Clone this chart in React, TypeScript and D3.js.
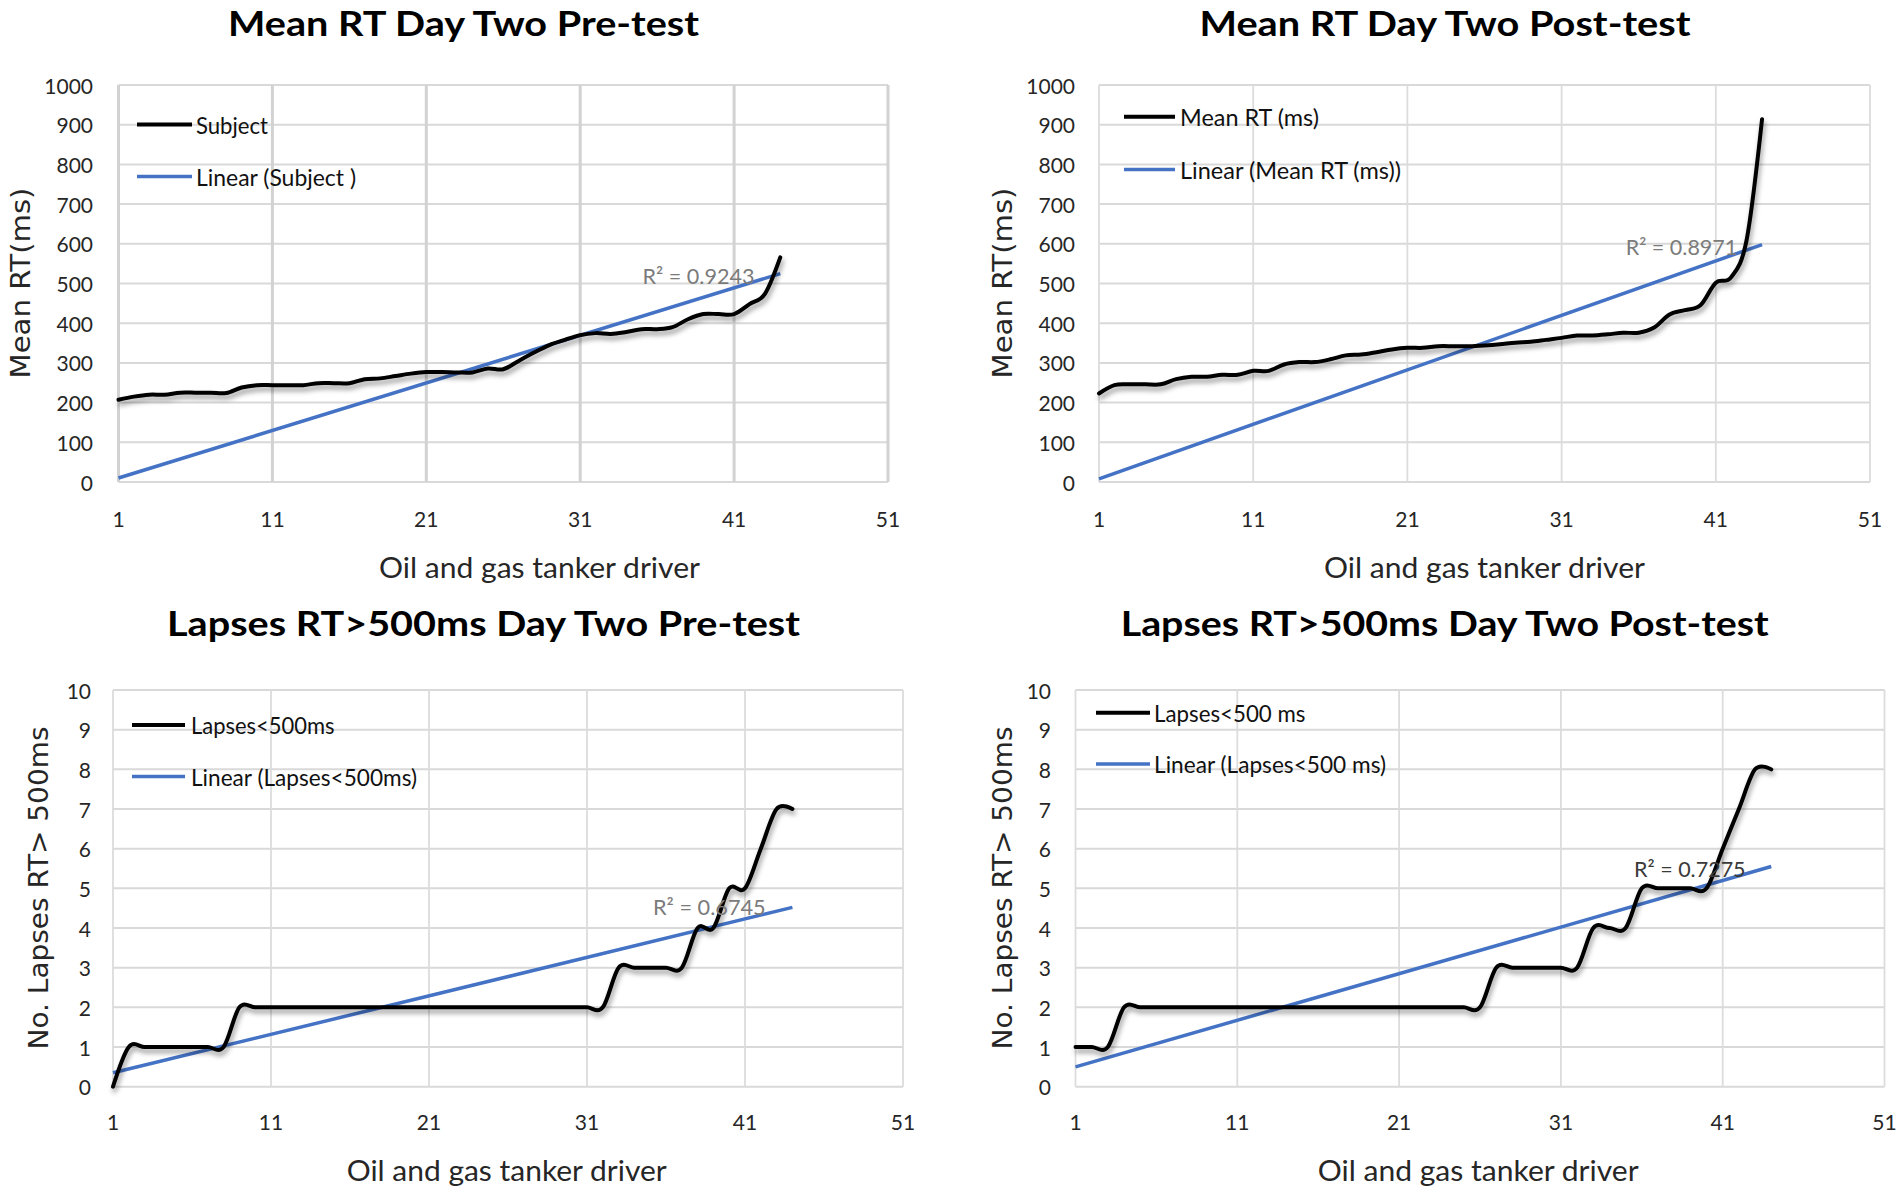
import React from 'react';
import * as d3 from 'd3';

// ---------- data ----------
const xTicks = [1, 11, 21, 31, 41, 51];
const meanTicks = [0, 100, 200, 300, 400, 500, 600, 700, 800, 900, 1000];
const lapseTicks = [0, 1, 2, 3, 4, 5, 6, 7, 8, 9, 10];

const meanRtPre = [
  207, 215, 220, 220, 225, 225, 225, 224, 238, 244,
  244, 244, 244, 249, 249, 249, 259, 261, 267, 273,
  277, 277, 276, 276, 286, 284, 305, 326, 345, 358,
  370, 375, 373, 378, 385, 385, 390, 410, 423, 423,
  423, 448, 474, 566,
];
const meanRtPost = [
  223, 244, 246, 246, 246, 259, 265, 265, 270, 270,
  280, 280, 296, 302, 302, 309, 319, 321, 327, 334,
  338, 338, 342, 342, 342, 344, 347, 351, 353, 358,
  363, 369, 369, 372, 376, 376, 389, 422, 433, 445,
  502, 516, 610, 914,
];
const lapsesPre = [
  0, 1, 1, 1, 1, 1, 1, 1, 2, 2,
  2, 2, 2, 2, 2, 2, 2, 2, 2, 2,
  2, 2, 2, 2, 2, 2, 2, 2, 2, 2,
  2, 2, 3, 3, 3, 3, 3, 4, 4, 5,
  5, 6, 7, 7,
];
const lapsesPost = [
  1, 1, 1, 2, 2, 2, 2, 2, 2, 2,
  2, 2, 2, 2, 2, 2, 2, 2, 2, 2,
  2, 2, 2, 2, 2, 2, 3, 3, 3, 3,
  3, 3, 4, 4, 4, 5, 5, 5, 5, 5,
  6, 7, 8, 8,
];

// trend line end points (x = first and last driver)
const trendX = [1, 44];
const trendMeanPre = [10, 525];
const trendMeanPost = [8, 598];
const trendLapsesPre = [0.35, 4.52];
const trendLapsesPost = [0.5, 5.55];

const titles = [
  'Mean RT Day Two Pre-test',
  'Mean RT Day Two Post-test',
  'Lapses RT>500ms Day Two Pre-test',
  'Lapses RT>500ms Day Two Post-test',
];
const seriesNames = ['Subject', 'Mean RT (ms)', 'Lapses<500ms', 'Lapses<500 ms'];
const trendNames = ['Linear (Subject )', 'Linear (Mean RT (ms))', 'Linear (Lapses<500ms)', 'Linear (Lapses<500 ms)'];
const r2Labels = ['R² = 0.9243', 'R² = 0.8971', 'R² = 0.6745', 'R² = 0.7275'];
const yTitles = ['Mean RT(ms)', 'Mean RT(ms)', 'No. Lapses RT> 500ms', 'No. Lapses RT> 500ms'];
const xTitle = 'Oil and gas tanker driver';

// ---------- layout ----------
type Layout = {
  left: number; right: number; top: number; bottom: number;
  tickRight: number; xTickY: number;
  titleX: number; titleW: number; titleY: number; titleSize: number;
  yTitleX: number; yTitleY: number; yTitleLen: number;
  xTitleX: number; xTitleY: number; xTitleW: number;
  legX1: number; legX2: number; legTx: number; legY1: number; legY2: number; legW1: number; legW2: number;
  r2X: number; r2W: number; r2Y: number; r2Color: string;
  vGridColor: string; vGridW: number;
};

const layouts: Layout[] = [
  {
    left: 118.5, right: 888, top: 85, bottom: 482, tickRight: 93, xTickY: 518.5,
    titleX: 228, titleW: 471, titleY: 36, titleSize: 35,
    yTitleX: 21, yTitleY: 283, yTitleLen: 191,
    xTitleX: 379, xTitleY: 566, xTitleW: 321,
    legX1: 137, legX2: 192, legTx: 196, legY1: 124.5, legY2: 176.5, legW1: 72, legW2: 160,
    r2X: 642.5, r2W: 112, r2Y: 275, r2Color: '#7b7b7b',
    vGridColor: '#d2d2d2', vGridW: 3,
  },
  {
    left: 1099, right: 1870, top: 85, bottom: 482, tickRight: 1075, xTickY: 518.5,
    titleX: 1199.5, titleW: 491, titleY: 36, titleSize: 35,
    yTitleX: 1002.5, yTitleY: 283, yTitleLen: 191,
    xTitleX: 1324, xTitleY: 566, xTitleW: 321,
    legX1: 1124, legX2: 1175, legTx: 1180, legY1: 116.7, legY2: 169.5, legW1: 139, legW2: 221,
    r2X: 1625.7, r2W: 111.6, r2Y: 246.7, r2Color: '#7b7b7b',
    vGridColor: '#dcdcdc', vGridW: 1.8,
  },
  {
    left: 113, right: 903, top: 690, bottom: 1086.7, tickRight: 91, xTickY: 1121.8,
    titleX: 167, titleW: 633, titleY: 636, titleSize: 35,
    yTitleX: 39.4, yTitleY: 888, yTitleLen: 323,
    xTitleX: 346.7, xTitleY: 1169, xTitleW: 320,
    legX1: 132, legX2: 185, legTx: 191, legY1: 725, legY2: 776.5, legW1: 143.5, legW2: 226,
    r2X: 653, r2W: 112.7, r2Y: 906.7, r2Color: '#7b7b7b',
    vGridColor: '#dcdcdc', vGridW: 1.8,
  },
  {
    left: 1075.5, right: 1884.5, top: 690, bottom: 1086.7, tickRight: 1051, xTickY: 1121.8,
    titleX: 1120.7, titleW: 648, titleY: 636, titleSize: 35,
    yTitleX: 1002.5, yTitleY: 888, yTitleLen: 323,
    xTitleX: 1317.7, xTitleY: 1169, xTitleW: 321,
    legX1: 1096, legX2: 1150, legTx: 1154, legY1: 712.7, legY2: 764, legW1: 151.5, legW2: 232,
    r2X: 1634, r2W: 111.6, r2Y: 868, r2Color: '#3a3a3a',
    vGridColor: '#dcdcdc', vGridW: 1.8,
  },
];

const BLUE = '#4472C4';
const SANS = 'Lato, "Open Sans", sans-serif';
const YFONT = '"DejaVu Sans", Verdana, sans-serif';

type PanelProps = {
  idx: number;
  values: number[];
  trend: number[];
  yTicks: number[];
  yMax: number;
  L: Layout;
};

function Panel({ idx, values, trend, yTicks, yMax, L }: PanelProps) {
  const x = d3.scaleLinear().domain([1, 51]).range([L.left, L.right]);
  const y = d3.scaleLinear().domain([0, yMax]).range([L.bottom, L.top]);
  const pts: [number, number][] = values.map((v, i) => [i + 1, v]);
  const line = d3
    .line<[number, number]>()
    .x((d) => x(d[0]))
    .y((d) => y(d[1]))
    .curve(d3.curveCardinal.tension(0));
  const trendPts: [number, number][] = trendX.map((xv, i) => [xv, trend[i]]);
  const straight = d3
    .line<[number, number]>()
    .x((d) => x(d[0]))
    .y((d) => y(d[1]));

  return (
    <g>
      {/* gridlines */}
      {yTicks.map((t) => (
        <line key={'h' + t} x1={L.left} x2={L.right} y1={y(t)} y2={y(t)} stroke="#d9d9d9" strokeWidth={2} />
      ))}
      {xTicks.map((t) => (
        <line key={'v' + t} x1={x(t)} x2={x(t)} y1={L.top} y2={L.bottom} stroke={L.vGridColor} strokeWidth={L.vGridW} />
      ))}

      {/* tick labels */}
      {yTicks.map((t) => (
        <text key={'yl' + t} x={L.tickRight} y={y(t)} textAnchor="end" dominantBaseline="central"
          fontFamily={SANS} fontSize={21} fill="#262626">{t}</text>
      ))}
      {xTicks.map((t) => (
        <text key={'xl' + t} x={x(t)} y={L.xTickY} textAnchor="middle" dominantBaseline="central"
          fontFamily={SANS} fontSize={21} fill="#262626">{t}</text>
      ))}

      {/* series */}
      <path d={straight(trendPts) || ''} fill="none" stroke={BLUE} strokeWidth={3.5} />
      <path d={line(pts) || ''} fill="none" stroke="#000" strokeWidth={4} strokeLinejoin="round"
        strokeLinecap="round" filter="url(#shadow)" />

      {/* R² */}
      <text x={L.r2X} y={L.r2Y} dominantBaseline="central" fontFamily={SANS} fontSize={22}
        fill={L.r2Color} textLength={L.r2W} lengthAdjust="spacingAndGlyphs">{r2Labels[idx]}</text>

      {/* legend */}
      <line x1={L.legX1} x2={L.legX2} y1={L.legY1} y2={L.legY1} stroke="#000" strokeWidth={4} />
      <text x={L.legTx} y={L.legY1} dominantBaseline="central" fontFamily={SANS} fontSize={23} fill="#111"
        textLength={L.legW1} lengthAdjust="spacingAndGlyphs">{seriesNames[idx]}</text>
      <line x1={L.legX1} x2={L.legX2} y1={L.legY2} y2={L.legY2} stroke={BLUE} strokeWidth={3.5} />
      <text x={L.legTx} y={L.legY2} dominantBaseline="central" fontFamily={SANS} fontSize={23} fill="#111"
        textLength={L.legW2} lengthAdjust="spacingAndGlyphs">{trendNames[idx]}</text>

      {/* titles */}
      <text x={L.titleX} y={L.titleY} fontFamily={SANS} fontWeight="bold" fontSize={L.titleSize} fill="#000"
        textLength={L.titleW} lengthAdjust="spacingAndGlyphs">{titles[idx]}</text>
      <text x={L.xTitleX} y={L.xTitleY} dominantBaseline="central" fontFamily={SANS} fontSize={29} fill="#262626"
        textLength={L.xTitleW} lengthAdjust="spacingAndGlyphs">{xTitle}</text>
      <text transform={`translate(${L.yTitleX},${L.yTitleY}) rotate(-90)`} x={-L.yTitleLen / 2} y={0}
        dominantBaseline="central" fontFamily={YFONT} fontSize={26} fill="#262626"
        textLength={L.yTitleLen} lengthAdjust="spacingAndGlyphs">{yTitles[idx]}</text>
    </g>
  );
}

export default function App() {
  const series = [meanRtPre, meanRtPost, lapsesPre, lapsesPost];
  const trends = [trendMeanPre, trendMeanPost, trendLapsesPre, trendLapsesPost];
  return (
    <div style={{ position: 'absolute', left: 0, top: 0, width: 1902, height: 1195, background: '#fff' }}>
      <svg width={1902} height={1195} viewBox="0 0 1902 1195" style={{ display: 'block' }}>
        <defs>
          <filter id="shadow" x="-5%" y="-20%" width="110%" height="150%">
            <feDropShadow dx={1.5} dy={4} stdDeviation={2.5} floodColor="#000" floodOpacity={0.4} />
          </filter>
        </defs>
        <rect x={0} y={0} width={1902} height={1195} fill="#fff" />
        {series.map((s, i) => (
          <Panel key={i} idx={i} values={s} trend={trends[i]}
            yTicks={i < 2 ? meanTicks : lapseTicks} yMax={i < 2 ? 1000 : 10} L={layouts[i]} />
        ))}
      </svg>
    </div>
  );
}
